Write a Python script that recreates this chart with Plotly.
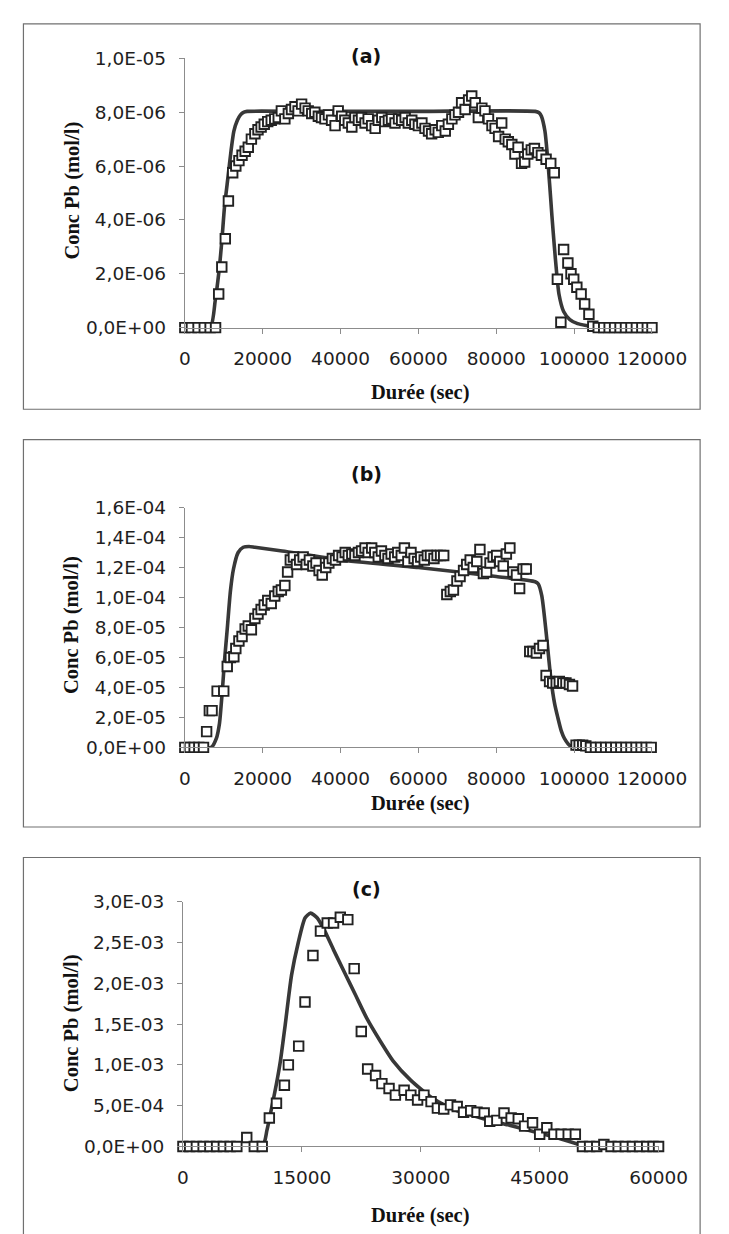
import plotly.graph_objects as go

W, H = 729, 1234

# ---------------- panel (a) ----------------
time_a = [0, 1700, 3400, 5000, 6500, 7900, 8700, 9500, 10400, 11200, 12300, 13100, 13900, 14700,
          15500, 16300, 17100, 18000, 18800, 19600, 20400, 21300, 22200, 23100, 24000, 24800,
          25700, 26600, 27400, 28300, 29100, 30000, 30900, 31700, 32600, 33400, 34300, 35100,
          36000, 36900, 37700, 38600, 39400, 40300, 41100, 42000, 42900, 43700, 44600, 45400,
          46300, 47100, 48000, 48900, 49700, 50600, 51400, 52300, 53100, 54000, 54900, 55700,
          56600, 57400, 58300, 59100, 60000, 60900, 61700, 62600, 63400, 64300, 65100, 66000,
          66900, 67700, 68600, 69400, 70300, 71100, 72000, 72900, 73700, 74600, 75400, 76300,
          77100, 78000, 78900, 79700, 80600, 81400, 82300, 83100, 84000, 84800, 85600, 86500,
          87300, 88100, 89000, 89800, 90700, 91600, 92800, 94000, 94900, 95700, 96600, 97300,
          98400, 99200, 99900, 100700, 101800, 102700, 103800, 104800, 106200, 107600, 109000,
          110400, 111800, 113200, 114600, 116000, 117400, 118800, 120000]
conc_a = [0, 0, 0, 0, 0, 0, 1.25e-6, 2.25e-6, 3.3e-6, 4.7e-6, 5.75e-6, 6.0e-6, 6.2e-6, 6.4e-6,
          6.55e-6, 6.7e-6, 7.0e-6, 7.2e-6, 7.35e-6, 7.45e-6, 7.55e-6, 7.65e-6, 7.7e-6, 7.75e-6,
          7.8e-6, 8.05e-6, 7.75e-6, 7.95e-6, 8.1e-6, 8.2e-6, 8.05e-6, 8.3e-6, 8.15e-6, 8.05e-6,
          7.95e-6, 8.0e-6, 7.85e-6, 7.8e-6, 7.75e-6, 7.9e-6, 7.7e-6, 7.5e-6, 8.05e-6, 7.85e-6,
          7.7e-6, 7.6e-6, 7.45e-6, 7.8e-6, 7.7e-6, 7.8e-6, 7.6e-6, 7.75e-6, 7.5e-6, 7.4e-6,
          7.7e-6, 7.8e-6, 7.65e-6, 7.7e-6, 7.75e-6, 7.6e-6, 7.75e-6, 7.7e-6, 7.8e-6, 7.6e-6,
          7.7e-6, 7.55e-6, 7.5e-6, 7.6e-6, 7.4e-6, 7.3e-6, 7.2e-6, 7.35e-6, 7.25e-6, 7.5e-6,
          7.3e-6, 7.55e-6, 7.75e-6, 7.9e-6, 8.0e-6, 8.35e-6, 8.1e-6, 8.45e-6, 8.6e-6, 8.35e-6,
          7.8e-6, 8.15e-6, 8.05e-6, 7.75e-6, 7.5e-6, 7.4e-6, 7.1e-6, 7.6e-6, 7.0e-6, 6.9e-6,
          6.8e-6, 6.45e-6, 6.7e-6, 6.1e-6, 6.15e-6, 6.45e-6, 6.6e-6, 6.65e-6, 6.5e-6, 6.4e-6,
          6.25e-6, 6.1e-6, 5.75e-6, 1.8e-6, 0.2e-6, 2.9e-6, 2.4e-6, 2.0e-6, 1.8e-6, 1.5e-6,
          1.25e-6, 0.88e-6, 0.5e-6, 0.05e-6, 0, 0, 0, 0, 0, 0, 0, 0, 0, 0, 0]
fit_time_a = [0, 6500, 7800, 8700, 9500, 10200, 11100, 11900, 12600, 13500, 14300, 15200, 16000,
              30000, 60000, 90000, 91000, 91600, 92500, 93100, 93700, 94300, 94900, 95500,
              96100, 97300, 98900, 100900, 103300, 106000, 120000]
fit_conc_a = [0, 0, 1.0e-6, 2.0e-6, 3.2e-6, 4.5e-6, 5.6e-6, 6.6e-6, 7.3e-6, 7.7e-6, 7.9e-6,
              8.0e-6, 8.03e-6, 8.03e-6, 8.03e-6, 8.03e-6, 7.98e-6, 7.85e-6, 7.3e-6, 6.45e-6,
              5.35e-6, 4.15e-6, 3.05e-6, 2.05e-6, 1.25e-6, 0.6e-6, 0.3e-6, 0.15e-6, 0.07e-6, 0, 0]

# ---------------- panel (b) ----------------
time_b = [0, 1200, 2400, 3600, 4800, 5600, 6300, 7000, 8300, 10000, 10900, 11700, 12600, 13100,
          13900, 14700, 15500, 16300, 17100, 18000, 18800, 19600, 20400, 21300, 22200, 23100,
          24000, 24800, 25700, 26400, 27100, 27900, 28700, 29500, 30400, 31200, 32000, 32900,
          33700, 34500, 35300, 36200, 37000, 37900, 38700, 39500, 40400, 41200, 42000, 42900,
          43700, 44600, 45400, 46300, 47100, 48000, 48800, 49700, 50500, 51400, 52200, 53000,
          53900, 54700, 55600, 56400, 57300, 58100, 58900, 59800, 60600, 61500, 62300, 63100,
          64000, 64800, 65700, 66500, 67300, 68200, 69000, 69900, 70700, 71600, 72400, 73300,
          74100, 75000, 75800, 76700, 77500, 78400, 79200, 80100, 80900, 81800, 82600, 83500,
          84300, 85200, 86000, 86900, 87700, 88600, 89400, 90300, 91100, 92000, 92800, 93700,
          94500, 95400, 96200, 97100, 97900, 98800, 99600, 100500, 101300, 102200, 103000,
          104200, 105500, 106800, 108100, 109400, 110700, 112000, 113300, 114600, 115900,
          117200, 118500, 119800]
conc_b = [0, 0, 0, 0, 0, 1.05e-5, 2.45e-5, 2.45e-5, 3.75e-5, 3.75e-5, 5.4e-5, 6.0e-5, 6.05e-5,
          6.6e-5, 7.1e-5, 7.4e-5, 7.9e-5, 8.1e-5, 7.85e-5, 8.6e-5, 8.9e-5, 9.2e-5, 9.5e-5,
          9.8e-5, 9.6e-5, 1.01e-4, 1.04e-4, 1.05e-4, 1.08e-4, 1.17e-4, 1.25e-4, 1.27e-4,
          1.22e-4, 1.25e-4, 1.27e-4, 1.22e-4, 1.25e-4, 1.21e-4, 1.23e-4, 1.18e-4, 1.15e-4,
          1.2e-4, 1.23e-4, 1.26e-4, 1.25e-4, 1.28e-4, 1.27e-4, 1.3e-4, 1.28e-4, 1.29e-4,
          1.28e-4, 1.3e-4, 1.31e-4, 1.33e-4, 1.3e-4, 1.33e-4, 1.3e-4, 1.27e-4, 1.31e-4,
          1.28e-4, 1.26e-4, 1.29e-4, 1.27e-4, 1.3e-4, 1.28e-4, 1.33e-4, 1.24e-4, 1.3e-4,
          1.26e-4, 1.24e-4, 1.27e-4, 1.25e-4, 1.28e-4, 1.28e-4, 1.26e-4, 1.28e-4, 1.28e-4,
          1.28e-4, 1.02e-4, 1.04e-4, 1.05e-4, 1.11e-4, 1.14e-4, 1.18e-4, 1.22e-4, 1.25e-4,
          1.2e-4, 1.24e-4, 1.32e-4, 1.16e-4, 1.17e-4, 1.23e-4, 1.27e-4, 1.28e-4, 1.24e-4,
          1.21e-4, 1.29e-4, 1.33e-4, 1.17e-4, 1.15e-4, 1.06e-4, 1.19e-4, 1.19e-4, 6.4e-5,
          6.4e-5, 6.3e-5, 6.6e-5, 6.8e-5, 4.8e-5, 4.4e-5, 4.3e-5, 4.3e-5, 4.4e-5, 4.3e-5,
          4.3e-5, 4.2e-5, 4.1e-5, 1.5e-6, 1.5e-6, 1.5e-6, 1.0e-6, 0, 0, 0, 0, 0, 0, 0, 0, 0,
          0, 0, 0, 0]
fit_time_b = [0, 6800, 8100, 8900, 9300, 9700, 10200, 10900, 11700, 12500, 13700, 15000, 16500,
              18000, 25000, 40000, 60000, 80000, 90000, 90800, 91700, 92800, 94000, 95000,
              95800, 96700, 97500, 99000, 101000, 120000]
fit_conc_b = [0, 0, 0.6e-5, 1.6e-5, 2.7e-5, 4.0e-5, 5.8e-5, 7.9e-5, 1.04e-4, 1.19e-4, 1.3e-4,
              1.335e-4, 1.34e-4, 1.335e-4, 1.31e-4, 1.25e-4, 1.2e-4, 1.14e-4, 1.105e-4,
              1.09e-4, 1.01e-4, 7.7e-5, 4.65e-5, 2.9e-5, 2.0e-5, 1.1e-5, 0.6e-5, 0.1e-5, 0, 0]

# ---------------- panel (c) ----------------
time_c = [0, 850, 1700, 2550, 3400, 4250, 5100, 5950, 6800, 8050, 9000, 10000, 10900, 11800,
          12800, 13300, 14600, 15400, 16400, 17350, 18200, 19000, 19850, 20800, 21600, 22500,
          23300, 24300, 25100, 26000, 26800, 27900, 28750, 29600, 30400, 31300, 32100, 32900,
          33750, 34600, 35400, 36300, 37100, 38000, 38700, 39600, 40500, 41400, 42300, 43100,
          44100, 45000, 45900, 46800, 47700, 48600, 49500, 50400, 51300, 52200, 53100, 54000,
          54900, 55800, 56700, 57600, 58500, 59300, 60000]
conc_c = [0, 0, 0, 0, 0, 0, 0, 0, 0, 1.1e-4, 0, 0, 3.5e-4, 5.3e-4, 7.5e-4, 1.0e-3, 1.23e-3,
          1.77e-3, 2.34e-3, 2.64e-3, 2.74e-3, 2.74e-3, 2.81e-3, 2.78e-3, 2.18e-3, 1.41e-3,
          9.5e-4, 8.7e-4, 7.7e-4, 7.1e-4, 6.3e-4, 6.9e-4, 6.3e-4, 5.7e-4, 6.3e-4, 5.5e-4,
          4.7e-4, 4.6e-4, 5.1e-4, 4.9e-4, 4.2e-4, 4.4e-4, 4.2e-4, 4.1e-4, 3.1e-4, 3.2e-4,
          4.1e-4, 3.5e-4, 3.4e-4, 2.5e-4, 2.9e-4, 1.5e-4, 2.3e-4, 1.5e-4, 1.5e-4, 1.5e-4,
          1.5e-4, 0, 0, 0, 0.25e-4, 0, 0, 0, 0, 0, 0, 0, 0]
fit_time_c = [0, 10000, 10600, 11200, 11800, 12300, 12900, 13700, 14550, 15400, 16100, 16950,
              17900, 19000, 20400, 21800, 23200, 24900, 26500, 28750, 31500, 34300, 37600,
              41000, 44300, 47100, 49900, 51000, 60000]
fit_conc_c = [0, 0, 2.0e-4, 4.8e-4, 7.7e-4, 1.05e-3, 1.49e-3, 2.1e-3, 2.5e-3, 2.8e-3, 2.86e-3,
              2.8e-3, 2.64e-3, 2.41e-3, 2.13e-3, 1.85e-3, 1.57e-3, 1.29e-3, 1.05e-3, 8.1e-4,
              5.9e-4, 4.5e-4, 3.5e-4, 2.65e-4, 1.8e-4, 1.1e-4, 0.25e-4, 0, 0]

# ---------------- ticks ----------------
xticks_ab = [0, 20000, 40000, 60000, 80000, 100000, 120000]
xticks_c = [0, 15000, 30000, 45000, 60000]
yticks_a = [0, 2e-6, 4e-6, 6e-6, 8e-6, 1e-5]
ylabels_a = ["0,0E+00", "2,0E-06", "4,0E-06", "6,0E-06", "8,0E-06", "1,0E-05"]
yticks_b = [0, 2e-5, 4e-5, 6e-5, 8e-5, 1e-4, 1.2e-4, 1.4e-4, 1.6e-4]
ylabels_b = ["0,0E+00", "2,0E-05", "4,0E-05", "6,0E-05", "8,0E-05", "1,0E-04", "1,2E-04",
             "1,4E-04", "1,6E-04"]
yticks_c = [0, 5e-4, 1e-3, 1.5e-3, 2e-3, 2.5e-3, 3e-3]
ylabels_c = ["0,0E+00", "5,0E-04", "1,0E-03", "1,5E-03", "2,0E-03", "2,5E-03", "3,0E-03"]


def px(x):
    return x / W


def py(y):
    return 1 - y / H


fig = go.Figure()

panels = [
    ("x", "y", fit_time_a, fit_conc_a, time_a, conc_a),
    ("x2", "y2", fit_time_b, fit_conc_b, time_b, conc_b),
    ("x3", "y3", fit_time_c, fit_conc_c, time_c, conc_c),
]
for xa, ya, ft, fc, t, c in panels:
    fig.add_trace(go.Scatter(x=ft, y=fc, xaxis=xa, yaxis=ya, mode="lines",
                             line=dict(color="#383838", width=3.6, shape="spline", smoothing=0.6),
                             cliponaxis=False, hoverinfo="skip"))
    fig.add_trace(go.Scatter(x=t, y=c, xaxis=xa, yaxis=ya, mode="markers",
                             marker=dict(symbol="square", size=9.5, color="white",
                                         line=dict(color="#222222", width=1.9)),
                             cliponaxis=False))

tick_font = dict(family="DejaVu Sans", size=18.5, color="#1e1e1e")
axis_common = dict(showline=True, linecolor="#8c8c8c", linewidth=1, ticks="outside",
                   ticklen=5, tickcolor="#8c8c8c", showgrid=False, zeroline=False,
                   tickfont=tick_font)

fig.update_layout(
    width=W, height=H,
    margin=dict(l=0, r=0, t=0, b=0),
    paper_bgcolor="white", plot_bgcolor="white",
    showlegend=False,
    xaxis=dict(axis_common, domain=[px(181), px(676)], range=[0, 120000], anchor="y",
               tickvals=xticks_ab, ticktext=[str(v) for v in xticks_ab], ticklabelstandoff=9),
    yaxis=dict(axis_common, domain=[py(314), py(40)], range=[0, 1e-5], anchor="x",
               tickvals=yticks_a, ticktext=ylabels_a, ticklabelstandoff=9),
    xaxis2=dict(axis_common, domain=[px(181), px(676)], range=[0, 120000], anchor="y2",
                tickvals=xticks_ab, ticktext=[str(v) for v in xticks_ab], ticklabelstandoff=9),
    yaxis2=dict(axis_common, domain=[py(741), py(497)], range=[0, 1.6e-4], anchor="x2",
                tickvals=yticks_b, ticktext=ylabels_b, ticklabelstandoff=9),
    xaxis3=dict(axis_common, domain=[px(179), px(683)], range=[0, 60000], anchor="y3",
                tickvals=xticks_c, ticktext=[str(v) for v in xticks_c], ticklabelstandoff=9),
    yaxis3=dict(axis_common, domain=[py(1147), py(898)], range=[0, 3e-3], anchor="x3",
                tickvals=yticks_c, ticktext=ylabels_c, ticklabelstandoff=9),
)

# panel frames
for top, bottom in [(5, 397), (428, 822), (853, 1300)]:
    fig.add_shape(type="rect", xref="paper", yref="paper",
                  x0=px(10), x1=px(727), y0=py(bottom), y1=py(top),
                  line=dict(color="#707070", width=1.2), fillcolor="rgba(0,0,0,0)")

serif = dict(family="Liberation Serif", size=20.5, color="#111111")
labels = [("(a)", 373, 38), ("(b)", 373, 463), ("(c)", 374, 885)]
for txt, x, y in labels:
    fig.add_annotation(text="<b>" + txt + "</b>", x=px(x), y=py(y), xref="paper", yref="paper",
                       xanchor="center", yanchor="middle", showarrow=False,
                       font=dict(family="DejaVu Sans", size=19, color="#111111"))

for y in [380, 798, 1217]:
    fig.add_annotation(text="<b>Durée (sec)</b>", x=px(430), y=py(y), xref="paper", yref="paper",
                       xanchor="center", yanchor="middle", showarrow=False, font=serif)

for y in [175, 617, 1022]:
    fig.add_annotation(text="<b>Conc Pb (mol/l)</b>", x=px(61), y=py(y), xref="paper",
                       yref="paper", xanchor="center", yanchor="middle", showarrow=False,
                       textangle=-90, font=serif)

fig.write_html("out.html")
